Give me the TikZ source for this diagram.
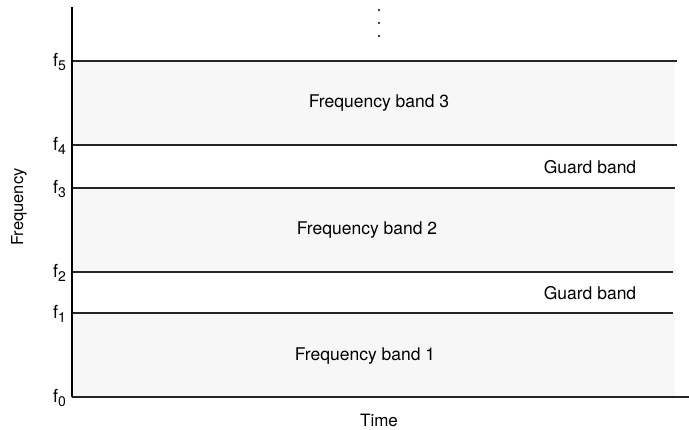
\documentclass[tikz,border=0pt]{standalone}
\usepackage{fontspec}
\setmainfont{TeX Gyre Heros}
\newcommand{\fsub}[1]{f\raisebox{-0.35ex}{\fontsize{14}{16}\selectfont #1}}
\tikzset{
band/.style={
  fill=black!3,
  draw=none
  }
}
\tikzset{
bandline/.style={
  draw=black!85,
  line width=1.1pt
  }
}
\tikzset{
bandlabel/.style={
  font=\fontsize{17.5}{20}\selectfont
  }
}
\tikzset{
freqlabel/.style={
  anchor=east,
  inner sep=1pt,
  font=\fontsize{18}{20}\selectfont
  }
}
\tikzstyle{axisline} = [draw,line width=1.4pt]

\begin{document}
\begin{tikzpicture}[x=1pt, y=-1pt]
	\useasboundingbox (0,0) rectangle (689,430);
	%bands
	\path[band] (72,61) rectangle (675,145);
	\path[band] (72,188) rectangle (675,272);
	\path[band] (72,313) rectangle (675,397);

	%band edges
	\foreach \y/\i/\e in {61/5/677, 145/4/677, 188/3/675, 272/2/673, 313/1/673, 397/0/689} {
		\draw[bandline] (72,\y) -- (\e,\y);
		\node[freqlabel] (f\i) at (67,\y+1) {\fsub{\i}};
	}

	%axis
	\draw[axisline] (72,7) -- (72,397);
	\node[rotate=90, font=\fontsize{16.5}{19}\selectfont] (freq) at (19,207) {Frequency};
	\node[font=\fontsize{17}{19}\selectfont] (time) at (379,420) {Time};

	%more bands above
	\foreach \y in {10,23,36}
		\fill (379,\y) circle (1.1pt);

	%labels
	\node[bandlabel] (band3) at (379,103) {Frequency band 3};
	\node[bandlabel] (guard2) at (590,167) {Guard band};
	\node[bandlabel] (band2) at (367,230) {Frequency band 2};
	\node[bandlabel] (guard1) at (590,293) {Guard band};
	\node[bandlabel] (band1) at (365,356) {Frequency band 1};
\end{tikzpicture}
\end{document}
